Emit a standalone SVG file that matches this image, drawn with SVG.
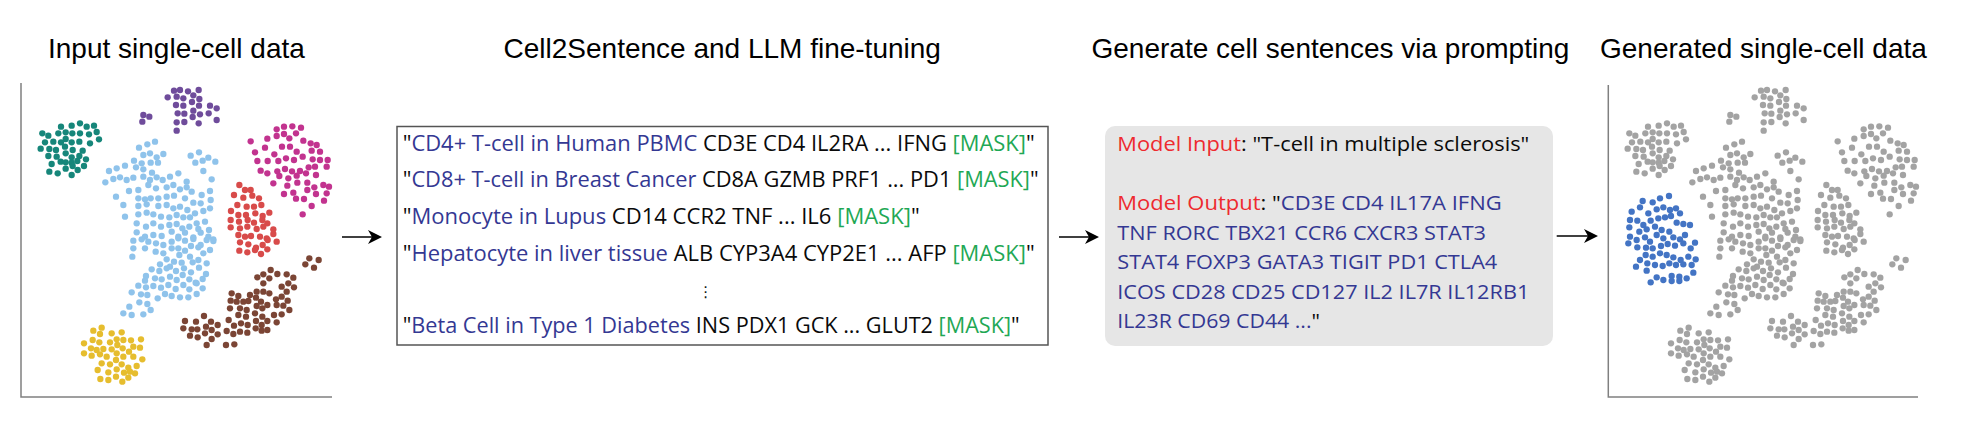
<svg xmlns="http://www.w3.org/2000/svg" xmlns:xlink="http://www.w3.org/1999/xlink" width="1981" height="423" viewBox="0 0 1981 423">
<style>
.title{font-family:"Liberation Sans",Arial,sans-serif;font-size:28px;fill:#000}
.t1{font-family:"Open Sans","Noto Sans",sans-serif;font-size:22px;fill:#0a0a0a}
.t3{font-family:"Open Sans","Noto Sans",sans-serif;font-size:20.5px;fill:#0a0a0a}
.b{fill:#343893}
.g{fill:#1fa855}
.r{fill:#ee2a2f}
.axis{stroke:#808080;stroke-width:1.5;fill:none}
.arrow{stroke:#000;stroke-width:1.6;fill:none;marker-end:url(#ah)}
.gray{fill:#a3a3a3}
</style>
<defs>
<marker id="ah" viewBox="-10 -8 16 16" refX="0" refY="0" markerWidth="16" markerHeight="16" markerUnits="userSpaceOnUse" orient="auto">
<path d="M5,0 L-9,-7 L-5,0 L-9,7 Z" fill="#000"/>
</marker>
<g id="cl-teal" transform="translate(30,80) scale(0.33333)">
<circle cx="93" cy="140" r="9.5"/><circle cx="125" cy="137" r="9.5"/><circle cx="150" cy="130" r="9.5"/><circle cx="170" cy="140" r="9.5"/><circle cx="192" cy="137" r="9.5"/>
<circle cx="37" cy="160" r="9.5"/><circle cx="55" cy="167" r="9.5"/><circle cx="85" cy="160" r="9.5"/><circle cx="107" cy="157" r="9.5"/><circle cx="127" cy="160" r="9.5"/><circle cx="150" cy="160" r="9.5"/><circle cx="177" cy="163" r="9.5"/><circle cx="200" cy="156" r="9.5"/>
<circle cx="45" cy="187" r="9.5"/><circle cx="70" cy="185" r="9.5"/><circle cx="93" cy="187" r="9.5"/><circle cx="107" cy="177" r="9.5"/><circle cx="125" cy="187" r="9.5"/><circle cx="148" cy="185" r="9.5"/><circle cx="180" cy="190" r="9.5"/><circle cx="207" cy="178" r="9.5"/>
<circle cx="32" cy="206" r="9.5"/><circle cx="58" cy="207" r="9.5"/><circle cx="78" cy="210" r="9.5"/><circle cx="105" cy="200" r="9.5"/><circle cx="128" cy="210" r="9.5"/><circle cx="158" cy="212" r="9.5"/>
<circle cx="55" cy="228" r="9.5"/><circle cx="80" cy="230" r="9.5"/><circle cx="107" cy="220" r="9.5"/><circle cx="125" cy="232" r="9.5"/><circle cx="148" cy="228" r="9.5"/>
<circle cx="65" cy="252" r="9.5"/><circle cx="92" cy="245" r="9.5"/><circle cx="107" cy="247" r="9.5"/><circle cx="125" cy="248" r="9.5"/><circle cx="142" cy="243" r="9.5"/><circle cx="168" cy="238" r="9.5"/>
<circle cx="58" cy="275" r="9.5"/><circle cx="83" cy="280" r="9.5"/><circle cx="107" cy="266" r="9.5"/><circle cx="128" cy="258" r="9.5"/><circle cx="143" cy="270" r="9.5"/><circle cx="162" cy="258" r="9.5"/>
<circle cx="125" cy="285" r="9.5"/>
</g>
<g id="cl-purple" transform="translate(30,80) scale(0.33333)">
<circle cx="432" cy="32" r="9.5"/><circle cx="450" cy="30" r="9.5"/><circle cx="474" cy="34" r="9.5"/><circle cx="506" cy="30" r="9.5"/>
<circle cx="413" cy="52" r="9.5"/><circle cx="440" cy="50" r="9.5"/><circle cx="460" cy="55" r="9.5"/><circle cx="490" cy="46" r="9.5"/><circle cx="508" cy="57" r="9.5"/>
<circle cx="438" cy="75" r="9.5"/><circle cx="460" cy="77" r="9.5"/><circle cx="486" cy="66" r="9.5"/><circle cx="507" cy="77" r="9.5"/><circle cx="540" cy="77" r="9.5"/><circle cx="560" cy="85" r="9.5"/>
<circle cx="443" cy="100" r="9.5"/><circle cx="463" cy="101" r="9.5"/><circle cx="490" cy="92" r="9.5"/><circle cx="510" cy="103" r="9.5"/><circle cx="536" cy="100" r="9.5"/>
<circle cx="340" cy="105" r="9.5"/><circle cx="358" cy="110" r="9.5"/><circle cx="337" cy="125" r="9.5"/>
<circle cx="440" cy="127" r="9.5"/><circle cx="463" cy="126" r="9.5"/><circle cx="488" cy="111" r="9.5"/><circle cx="506" cy="130" r="9.5"/><circle cx="560" cy="120" r="9.5"/>
<circle cx="440" cy="152" r="9.5"/>
</g>
<g id="cl-magenta" transform="translate(30,80) scale(0.33333)">
<circle cx="740" cy="148" r="9.5"/><circle cx="762" cy="140" r="9.5"/><circle cx="787" cy="139" r="9.5"/><circle cx="813" cy="143" r="9.5"/>
<circle cx="662" cy="184" r="9.5"/><circle cx="712" cy="176" r="9.5"/><circle cx="740" cy="168" r="9.5"/><circle cx="762" cy="162" r="9.5"/><circle cx="798" cy="160" r="9.5"/><circle cx="778" cy="175" r="9.5"/><circle cx="820" cy="182" r="9.5"/>
<circle cx="675" cy="217" r="9.5"/><circle cx="705" cy="203" r="9.5"/><circle cx="733" cy="223" r="9.5"/><circle cx="756" cy="200" r="9.5"/><circle cx="780" cy="200" r="9.5"/><circle cx="800" cy="215" r="9.5"/><circle cx="842" cy="190" r="9.5"/><circle cx="860" cy="195" r="9.5"/>
<circle cx="682" cy="243" r="9.5"/><circle cx="713" cy="243" r="9.5"/><circle cx="745" cy="243" r="9.5"/><circle cx="768" cy="235" r="9.5"/><circle cx="792" cy="240" r="9.5"/><circle cx="818" cy="230" r="9.5"/><circle cx="845" cy="212" r="9.5"/><circle cx="870" cy="215" r="9.5"/><circle cx="848" cy="238" r="9.5"/><circle cx="870" cy="240" r="9.5"/><circle cx="893" cy="240" r="9.5"/>
<circle cx="692" cy="272" r="9.5"/><circle cx="712" cy="280" r="9.5"/><circle cx="742" cy="274" r="9.5"/><circle cx="765" cy="267" r="9.5"/><circle cx="786" cy="274" r="9.5"/><circle cx="810" cy="273" r="9.5"/><circle cx="836" cy="262" r="9.5"/><circle cx="855" cy="260" r="9.5"/><circle cx="890" cy="260" r="9.5"/>
<circle cx="730" cy="310" r="9.5"/><circle cx="748" cy="288" r="9.5"/><circle cx="775" cy="295" r="9.5"/><circle cx="800" cy="287" r="9.5"/><circle cx="828" cy="280" r="9.5"/><circle cx="858" cy="285" r="9.5"/><circle cx="772" cy="317" r="9.5"/><circle cx="802" cy="308" r="9.5"/><circle cx="832" cy="308" r="9.5"/><circle cx="853" cy="322" r="9.5"/><circle cx="880" cy="315" r="9.5"/><circle cx="897" cy="320" r="9.5"/>
<circle cx="762" cy="342" r="9.5"/><circle cx="790" cy="338" r="9.5"/><circle cx="798" cy="356" r="9.5"/><circle cx="822" cy="357" r="9.5"/><circle cx="832" cy="330" r="9.5"/><circle cx="858" cy="342" r="9.5"/><circle cx="890" cy="340" r="9.5"/><circle cx="845" cy="378" r="9.5"/><circle cx="882" cy="362" r="9.5"/>
<circle cx="818" cy="403" r="9.5"/>
</g>
<g id="cl-red">
<g transform="translate(30,80) scale(0.33333)">
<circle cx="628" cy="315" r="9.5"/><circle cx="645" cy="330" r="9.5"/><circle cx="662" cy="330" r="9.5"/>
<circle cx="612" cy="345" r="9.5"/><circle cx="640" cy="353" r="9.5"/><circle cx="667" cy="347" r="9.5"/><circle cx="687" cy="355" r="9.5"/>
<circle cx="622" cy="375" r="9.5"/><circle cx="650" cy="380" r="9.5"/><circle cx="672" cy="380" r="9.5"/><circle cx="694" cy="375" r="9.5"/>
<circle cx="603" cy="393" r="9.5"/><circle cx="625" cy="405" r="9.5"/><circle cx="648" cy="405" r="9.5"/><circle cx="676" cy="400" r="9.5"/><circle cx="698" cy="408" r="9.5"/><circle cx="718" cy="398" r="9.5"/>
<circle cx="602" cy="420" r="9.5"/><circle cx="627" cy="425" r="9.5"/><circle cx="653" cy="420" r="9.5"/><circle cx="672" cy="428" r="9.5"/><circle cx="697" cy="420" r="9.5"/><circle cx="712" cy="430" r="9.5"/>
<circle cx="602" cy="442" r="9.5"/><circle cx="630" cy="445" r="9.5"/><circle cx="652" cy="440" r="9.5"/><circle cx="680" cy="447" r="9.5"/><circle cx="700" cy="440" r="9.5"/><circle cx="730" cy="448" r="9.5"/>
<circle cx="625" cy="465" r="9.5"/><circle cx="645" cy="470" r="9.5"/><circle cx="663" cy="468" r="9.5"/><circle cx="690" cy="470" r="9.5"/><circle cx="710" cy="475" r="9.5"/><circle cx="730" cy="462" r="9.5"/>
</g>
<g transform="translate(30,235) scale(0.33333)">
<circle cx="630" cy="22" r="9.5"/><circle cx="655" cy="28" r="9.5"/><circle cx="678" cy="38" r="9.5"/><circle cx="698" cy="30" r="9.5"/><circle cx="713" cy="15" r="9.5"/><circle cx="740" cy="20" r="9.5"/><circle cx="628" cy="47" r="9.5"/><circle cx="652" cy="52" r="9.5"/><circle cx="675" cy="45" r="9.5"/><circle cx="693" cy="57" r="9.5"/><circle cx="712" cy="43" r="9.5"/>
</g>
</g>
<g id="cl-lblue">
<g transform="translate(30,80) scale(0.33333)">
<circle cx="375" cy="185" r="9.5"/><circle cx="352" cy="193" r="9.5"/><circle cx="327" cy="203" r="9.5"/>
<circle cx="340" cy="225" r="9.5"/><circle cx="360" cy="220" r="9.5"/><circle cx="380" cy="232" r="9.5"/><circle cx="400" cy="222" r="9.5"/><circle cx="312" cy="242" r="9.5"/><circle cx="335" cy="250" r="9.5"/><circle cx="362" cy="248" r="9.5"/><circle cx="384" cy="248" r="9.5"/>
<circle cx="482" cy="227" r="9.5"/><circle cx="507" cy="217" r="9.5"/><circle cx="535" cy="233" r="9.5"/><circle cx="518" cy="242" r="9.5"/><circle cx="496" cy="248" r="9.5"/><circle cx="556" cy="245" r="9.5"/>
<circle cx="237" cy="273" r="9.5"/><circle cx="260" cy="265" r="9.5"/><circle cx="285" cy="257" r="9.5"/><circle cx="318" cy="262" r="9.5"/><circle cx="340" cy="268" r="9.5"/><circle cx="366" cy="278" r="9.5"/><circle cx="250" cy="297" r="9.5"/><circle cx="270" cy="292" r="9.5"/><circle cx="290" cy="300" r="9.5"/><circle cx="310" cy="293" r="9.5"/><circle cx="340" cy="290" r="9.5"/><circle cx="360" cy="300" r="9.5"/><circle cx="380" cy="292" r="9.5"/><circle cx="398" cy="300" r="9.5"/><circle cx="420" cy="290" r="9.5"/><circle cx="445" cy="280" r="9.5"/><circle cx="470" cy="305" r="9.5"/><circle cx="520" cy="273" r="9.5"/><circle cx="545" cy="298" r="9.5"/><circle cx="226" cy="307" r="9.5"/>
<circle cx="297" cy="333" r="9.5"/><circle cx="325" cy="330" r="9.5"/><circle cx="355" cy="315" r="9.5"/><circle cx="378" cy="325" r="9.5"/><circle cx="410" cy="322" r="9.5"/><circle cx="430" cy="315" r="9.5"/><circle cx="450" cy="328" r="9.5"/><circle cx="470" cy="322" r="9.5"/><circle cx="485" cy="335" r="9.5"/><circle cx="515" cy="345" r="9.5"/><circle cx="540" cy="333" r="9.5"/><circle cx="258" cy="350" r="9.5"/><circle cx="325" cy="355" r="9.5"/><circle cx="345" cy="358" r="9.5"/><circle cx="362" cy="355" r="9.5"/><circle cx="385" cy="355" r="9.5"/><circle cx="410" cy="350" r="9.5"/><circle cx="432" cy="347" r="9.5"/><circle cx="465" cy="355" r="9.5"/><circle cx="490" cy="368" r="9.5"/><circle cx="512" cy="370" r="9.5"/><circle cx="542" cy="360" r="9.5"/>
<circle cx="280" cy="375" r="9.5"/><circle cx="325" cy="378" r="9.5"/><circle cx="350" cy="373" r="9.5"/><circle cx="385" cy="378" r="9.5"/><circle cx="410" cy="375" r="9.5"/><circle cx="430" cy="385" r="9.5"/><circle cx="450" cy="380" r="9.5"/><circle cx="472" cy="390" r="9.5"/><circle cx="495" cy="400" r="9.5"/><circle cx="520" cy="393" r="9.5"/><circle cx="540" cy="385" r="9.5"/><circle cx="285" cy="410" r="9.5"/><circle cx="325" cy="403" r="9.5"/><circle cx="350" cy="398" r="9.5"/><circle cx="370" cy="403" r="9.5"/><circle cx="393" cy="410" r="9.5"/><circle cx="418" cy="412" r="9.5"/><circle cx="440" cy="405" r="9.5"/><circle cx="460" cy="412" r="9.5"/><circle cx="480" cy="412" r="9.5"/><circle cx="500" cy="430" r="9.5"/><circle cx="525" cy="425" r="9.5"/>
<circle cx="320" cy="430" r="9.5"/><circle cx="348" cy="440" r="9.5"/><circle cx="370" cy="430" r="9.5"/><circle cx="393" cy="440" r="9.5"/><circle cx="418" cy="435" r="9.5"/><circle cx="440" cy="432" r="9.5"/><circle cx="457" cy="445" r="9.5"/><circle cx="478" cy="440" r="9.5"/><circle cx="505" cy="447" r="9.5"/><circle cx="537" cy="450" r="9.5"/>
<circle cx="320" cy="457" r="9.5"/><circle cx="345" cy="470" r="9.5"/><circle cx="370" cy="465" r="9.5"/><circle cx="395" cy="468" r="9.5"/><circle cx="425" cy="455" r="9.5"/><circle cx="445" cy="470" r="9.5"/><circle cx="465" cy="458" r="9.5"/><circle cx="490" cy="472" r="9.5"/><circle cx="512" cy="458" r="9.5"/><circle cx="535" cy="470" r="9.5"/><circle cx="550" cy="478" r="9.5"/>
</g>
<g transform="translate(30,235) scale(0.33333)">
<circle cx="310" cy="17" r="9.5"/><circle cx="335" cy="13" r="9.5"/><circle cx="355" cy="20" r="9.5"/><circle cx="378" cy="25" r="9.5"/><circle cx="400" cy="30" r="9.5"/><circle cx="425" cy="20" r="9.5"/><circle cx="445" cy="10" r="9.5"/><circle cx="465" cy="17" r="9.5"/><circle cx="490" cy="12" r="9.5"/><circle cx="512" cy="30" r="9.5"/><circle cx="530" cy="15" r="9.5"/><circle cx="550" cy="18" r="9.5"/>
<circle cx="310" cy="40" r="9.5"/><circle cx="345" cy="40" r="9.5"/><circle cx="377" cy="50" r="9.5"/><circle cx="400" cy="55" r="9.5"/><circle cx="425" cy="40" r="9.5"/><circle cx="445" cy="40" r="9.5"/><circle cx="465" cy="47" r="9.5"/><circle cx="483" cy="33" r="9.5"/><circle cx="505" cy="37" r="9.5"/><circle cx="520" cy="55" r="9.5"/><circle cx="540" cy="45" r="9.5"/>
<circle cx="307" cy="65" r="9.5"/><circle cx="410" cy="73" r="9.5"/><circle cx="432" cy="80" r="9.5"/><circle cx="448" cy="60" r="9.5"/><circle cx="480" cy="65" r="9.5"/><circle cx="505" cy="75" r="9.5"/><circle cx="530" cy="85" r="9.5"/><circle cx="390" cy="88" r="9.5"/><circle cx="420" cy="95" r="9.5"/><circle cx="455" cy="83" r="9.5"/><circle cx="488" cy="82" r="9.5"/><circle cx="365" cy="103" r="9.5"/><circle cx="388" cy="108" r="9.5"/><circle cx="410" cy="100" r="9.5"/><circle cx="438" cy="108" r="9.5"/><circle cx="462" cy="100" r="9.5"/><circle cx="483" cy="112" r="9.5"/><circle cx="507" cy="98" r="9.5"/><circle cx="528" cy="117" r="9.5"/>
<circle cx="348" cy="123" r="9.5"/><circle cx="375" cy="130" r="9.5"/><circle cx="395" cy="133" r="9.5"/><circle cx="420" cy="125" r="9.5"/><circle cx="440" cy="135" r="9.5"/><circle cx="458" cy="120" r="9.5"/><circle cx="478" cy="133" r="9.5"/><circle cx="497" cy="143" r="9.5"/><circle cx="518" cy="132" r="9.5"/><circle cx="345" cy="137" r="9.5"/>
<circle cx="325" cy="152" r="9.5"/><circle cx="348" cy="157" r="9.5"/><circle cx="370" cy="153" r="9.5"/><circle cx="393" cy="158" r="9.5"/><circle cx="415" cy="150" r="9.5"/><circle cx="437" cy="162" r="9.5"/><circle cx="460" cy="150" r="9.5"/><circle cx="478" cy="163" r="9.5"/><circle cx="500" cy="145" r="9.5"/><circle cx="518" cy="160" r="9.5"/>
<circle cx="305" cy="172" r="9.5"/><circle cx="333" cy="178" r="9.5"/><circle cx="352" cy="180" r="9.5"/><circle cx="383" cy="190" r="9.5"/><circle cx="405" cy="177" r="9.5"/><circle cx="425" cy="183" r="9.5"/><circle cx="450" cy="187" r="9.5"/><circle cx="475" cy="187" r="9.5"/><circle cx="500" cy="177" r="9.5"/>
<circle cx="328" cy="202" r="9.5"/><circle cx="352" cy="207" r="9.5"/><circle cx="298" cy="215" r="9.5"/><circle cx="362" cy="225" r="9.5"/><circle cx="280" cy="235" r="9.5"/><circle cx="305" cy="240" r="9.5"/><circle cx="340" cy="238" r="9.5"/>
</g>
</g>
<g id="cl-brown" transform="translate(30,235) scale(0.33333)">
<circle cx="838" cy="70" r="9.5"/><circle cx="866" cy="75" r="9.5"/><circle cx="826" cy="88" r="9.5"/><circle cx="852" cy="98" r="9.5"/>
<circle cx="722" cy="105" r="9.5"/><circle cx="700" cy="118" r="9.5"/><circle cx="742" cy="117" r="9.5"/><circle cx="770" cy="118" r="9.5"/><circle cx="790" cy="128" r="9.5"/><circle cx="682" cy="127" r="9.5"/><circle cx="718" cy="130" r="9.5"/><circle cx="700" cy="145" r="9.5"/><circle cx="755" cy="155" r="9.5"/><circle cx="775" cy="145" r="9.5"/><circle cx="792" cy="157" r="9.5"/>
<circle cx="605" cy="175" r="9.5"/><circle cx="625" cy="183" r="9.5"/><circle cx="660" cy="180" r="9.5"/><circle cx="680" cy="170" r="9.5"/><circle cx="700" cy="170" r="9.5"/><circle cx="718" cy="175" r="9.5"/><circle cx="770" cy="170" r="9.5"/><circle cx="678" cy="188" r="9.5"/><circle cx="655" cy="198" r="9.5"/><circle cx="693" cy="200" r="9.5"/><circle cx="738" cy="193" r="9.5"/><circle cx="755" cy="185" r="9.5"/><circle cx="773" cy="197" r="9.5"/>
<circle cx="602" cy="197" r="9.5"/><circle cx="620" cy="200" r="9.5"/><circle cx="640" cy="200" r="9.5"/><circle cx="600" cy="220" r="9.5"/><circle cx="630" cy="220" r="9.5"/><circle cx="650" cy="225" r="9.5"/><circle cx="680" cy="213" r="9.5"/><circle cx="697" cy="220" r="9.5"/><circle cx="712" cy="210" r="9.5"/><circle cx="740" cy="210" r="9.5"/><circle cx="760" cy="212" r="9.5"/><circle cx="778" cy="225" r="9.5"/>
<circle cx="625" cy="240" r="9.5"/><circle cx="648" cy="245" r="9.5"/><circle cx="675" cy="235" r="9.5"/><circle cx="697" cy="245" r="9.5"/><circle cx="732" cy="240" r="9.5"/><circle cx="755" cy="238" r="9.5"/><circle cx="522" cy="243" r="9.5"/>
<circle cx="465" cy="258" r="9.5"/><circle cx="498" cy="260" r="9.5"/><circle cx="543" cy="260" r="9.5"/><circle cx="596" cy="255" r="9.5"/><circle cx="612" cy="272" r="9.5"/><circle cx="633" cy="265" r="9.5"/><circle cx="653" cy="270" r="9.5"/><circle cx="678" cy="258" r="9.5"/><circle cx="695" cy="270" r="9.5"/><circle cx="712" cy="258" r="9.5"/><circle cx="740" cy="262" r="9.5"/>
<circle cx="460" cy="280" r="9.5"/><circle cx="485" cy="283" r="9.5"/><circle cx="502" cy="283" r="9.5"/><circle cx="528" cy="275" r="9.5"/><circle cx="545" cy="285" r="9.5"/><circle cx="563" cy="270" r="9.5"/><circle cx="590" cy="288" r="9.5"/><circle cx="610" cy="297" r="9.5"/><circle cx="630" cy="290" r="9.5"/><circle cx="652" cy="293" r="9.5"/><circle cx="677" cy="280" r="9.5"/><circle cx="695" cy="287" r="9.5"/><circle cx="712" cy="285" r="9.5"/>
<circle cx="480" cy="302" r="9.5"/><circle cx="503" cy="307" r="9.5"/><circle cx="525" cy="295" r="9.5"/><circle cx="545" cy="312" r="9.5"/><circle cx="563" cy="298" r="9.5"/>
<circle cx="530" cy="330" r="9.5"/><circle cx="588" cy="330" r="9.5"/><circle cx="613" cy="328" r="9.5"/>
</g>
<g id="cl-yellow" transform="translate(30,235) scale(0.33333)">
<circle cx="215" cy="278" r="9.5"/><circle cx="190" cy="287" r="9.5"/><circle cx="210" cy="297" r="9.5"/><circle cx="245" cy="295" r="9.5"/><circle cx="275" cy="292" r="9.5"/>
<circle cx="162" cy="325" r="9.5"/><circle cx="188" cy="315" r="9.5"/><circle cx="208" cy="322" r="9.5"/><circle cx="240" cy="322" r="9.5"/><circle cx="260" cy="313" r="9.5"/><circle cx="280" cy="315" r="9.5"/><circle cx="303" cy="316" r="9.5"/><circle cx="333" cy="313" r="9.5"/>
<circle cx="162" cy="355" r="9.5"/><circle cx="183" cy="340" r="9.5"/><circle cx="200" cy="345" r="9.5"/><circle cx="220" cy="342" r="9.5"/><circle cx="245" cy="343" r="9.5"/><circle cx="262" cy="330" r="9.5"/><circle cx="278" cy="340" r="9.5"/><circle cx="297" cy="350" r="9.5"/><circle cx="310" cy="335" r="9.5"/><circle cx="330" cy="338" r="9.5"/>
<circle cx="185" cy="362" r="9.5"/><circle cx="210" cy="358" r="9.5"/><circle cx="230" cy="365" r="9.5"/><circle cx="260" cy="355" r="9.5"/><circle cx="280" cy="365" r="9.5"/><circle cx="310" cy="365" r="9.5"/><circle cx="337" cy="373" r="9.5"/>
<circle cx="215" cy="385" r="9.5"/><circle cx="240" cy="388" r="9.5"/><circle cx="258" cy="375" r="9.5"/><circle cx="275" cy="388" r="9.5"/><circle cx="295" cy="398" r="9.5"/><circle cx="320" cy="393" r="9.5"/>
<circle cx="203" cy="405" r="9.5"/><circle cx="235" cy="412" r="9.5"/><circle cx="260" cy="403" r="9.5"/><circle cx="282" cy="413" r="9.5"/><circle cx="300" cy="410" r="9.5"/><circle cx="315" cy="415" r="9.5"/>
<circle cx="211" cy="432" r="9.5"/><circle cx="235" cy="435" r="9.5"/><circle cx="258" cy="425" r="9.5"/><circle cx="277" cy="440" r="9.5"/><circle cx="295" cy="428" r="9.5"/>
</g>
</defs>

<g id="titles">
<text class="title" x="48" y="58">Input single-cell data</text>
<text class="title" x="503.5" y="58">Cell2Sentence and LLM fine-tuning</text>
<text class="title" x="1091.5" y="58">Generate cell sentences via prompting</text>
<text class="title" x="1600" y="58">Generated single-cell data</text>
</g>

<g id="input-plot">
<path class="axis" d="M21,83 V397 H332"/>
<use href="#cl-lblue" fill="#8fc3eb"/>
<use href="#cl-teal" fill="#16867a"/>
<use href="#cl-purple" fill="#6f4c9b"/>
<use href="#cl-magenta" fill="#c2338f"/>
<use href="#cl-red" fill="#d84b4a"/>
<use href="#cl-brown" fill="#7b4535"/>
<use href="#cl-yellow" fill="#e6bd2e"/>
</g>

<g id="finetune-box">
<rect x="397" y="126.5" width="651" height="218.5" fill="#fff" stroke="#555" stroke-width="1.5"/>
<text class="t1" x="402.7" y="150.7" textLength="632" lengthAdjust="spacingAndGlyphs">"<tspan class="b">CD4+ T-cell in Human PBMC</tspan> CD3E CD4 IL2RA ... IFNG <tspan class="g">[MASK]</tspan>"</text>
<text class="t1" x="402.7" y="187.4" textLength="636" lengthAdjust="spacingAndGlyphs">"<tspan class="b">CD8+ T-cell in Breast Cancer</tspan> CD8A GZMB PRF1 ... PD1  <tspan class="g">[MASK]</tspan>"</text>
<text class="t1" x="402.7" y="224" textLength="517" lengthAdjust="spacingAndGlyphs">"<tspan class="b">Monocyte in Lupus</tspan> CD14 CCR2 TNF ...  IL6 <tspan class="g">[MASK]</tspan>"</text>
<text class="t1" x="402.7" y="260.7" textLength="632" lengthAdjust="spacingAndGlyphs">"<tspan class="b">Hepatocyte in liver tissue</tspan> ALB CYP3A4 CYP2E1 ... AFP <tspan class="g">[MASK]</tspan>"</text>
<text x="705.7" y="297" text-anchor="middle" font-family="DejaVu Sans, sans-serif" font-size="15" fill="#111">⋮</text>
<text class="t1" x="402.7" y="333.4" textLength="617" lengthAdjust="spacingAndGlyphs">"<tspan class="b">Beta Cell in Type 1 Diabetes</tspan> INS PDX1 GCK ... GLUT2 <tspan class="g">[MASK]</tspan>"</text>
</g>

<g id="prompt-box">
<rect x="1105" y="126" width="448" height="220" rx="10" fill="#e6e6e6"/>
<text class="t3" x="1117.3" y="150.7" textLength="412" lengthAdjust="spacingAndGlyphs"><tspan class="r">Model Input</tspan>: "T-cell in multiple sclerosis"</text>
<text class="t3" x="1117.3" y="210" textLength="384.4" lengthAdjust="spacingAndGlyphs"><tspan class="r">Model Output</tspan>: "<tspan class="b">CD3E CD4 IL17A IFNG</tspan></text>
<text class="t3 b" x="1117.3" y="239.6" textLength="368.7" lengthAdjust="spacingAndGlyphs">TNF RORC TBX21 CCR6 CXCR3 STAT3</text>
<text class="t3 b" x="1117.3" y="269.3" textLength="380" lengthAdjust="spacingAndGlyphs">STAT4 FOXP3 GATA3 TIGIT PD1 CTLA4</text>
<text class="t3 b" x="1117.3" y="298.6" textLength="412" lengthAdjust="spacingAndGlyphs">ICOS CD28 CD25 CD127 IL2 IL7R IL12RB1</text>
<text class="t3" x="1117.3" y="328.3" textLength="202.7" lengthAdjust="spacingAndGlyphs"><tspan class="b">IL23R CD69 CD44 ...</tspan>"</text>
</g>

<g id="generated-plot">
<path class="axis" d="M1608.3,85 V397 H1918"/>
<g class="gray">
<use href="#cl-lblue" x="1587"/>
<use href="#cl-teal" x="1587"/>
<use href="#cl-purple" x="1587"/>
<use href="#cl-magenta" x="1587"/>
<use href="#cl-red" x="1587"/>
<use href="#cl-brown" x="1587"/>
<use href="#cl-yellow" x="1587"/>
</g>
<g id="cl-blue" fill="#4374c4" transform="translate(1560,0) scale(0.33333)">
<circle cx="327" cy="588" r="9.5"/><circle cx="300" cy="595" r="9.5"/><circle cx="278" cy="607" r="9.5"/><circle cx="248" cy="603" r="9.5"/>
<circle cx="215" cy="635" r="9.5"/><circle cx="240" cy="622" r="9.5"/><circle cx="265" cy="640" r="9.5"/><circle cx="290" cy="628" r="9.5"/><circle cx="310" cy="622" r="9.5"/><circle cx="330" cy="630" r="9.5"/><circle cx="348" cy="625" r="9.5"/>
<circle cx="210" cy="660" r="9.5"/><circle cx="232" cy="662" r="9.5"/><circle cx="250" cy="675" r="9.5"/><circle cx="272" cy="662" r="9.5"/><circle cx="295" cy="655" r="9.5"/><circle cx="315" cy="652" r="9.5"/><circle cx="333" cy="648" r="9.5"/><circle cx="360" cy="640" r="9.5"/>
<circle cx="208" cy="682" r="9.5"/><circle cx="238" cy="695" r="9.5"/><circle cx="260" cy="688" r="9.5"/><circle cx="285" cy="680" r="9.5"/><circle cx="305" cy="690" r="9.5"/><circle cx="328" cy="695" r="9.5"/><circle cx="350" cy="668" r="9.5"/><circle cx="370" cy="672" r="9.5"/><circle cx="390" cy="675" r="9.5"/>
<circle cx="210" cy="710" r="9.5"/><circle cx="230" cy="720" r="9.5"/><circle cx="255" cy="712" r="9.5"/><circle cx="270" cy="725" r="9.5"/><circle cx="290" cy="705" r="9.5"/><circle cx="310" cy="715" r="9.5"/><circle cx="340" cy="712" r="9.5"/><circle cx="360" cy="718" r="9.5"/><circle cx="375" cy="705" r="9.5"/><circle cx="392" cy="745" r="9.5"/>
<circle cx="205" cy="730" r="9.5"/><circle cx="232" cy="742" r="9.5"/><circle cx="258" cy="743" r="9.5"/><circle cx="278" cy="745" r="9.5"/><circle cx="303" cy="738" r="9.5"/><circle cx="323" cy="732" r="9.5"/><circle cx="345" cy="737" r="9.5"/><circle cx="370" cy="730" r="9.5"/><circle cx="405" cy="728" r="9.5"/>
<circle cx="240" cy="780" r="9.5"/><circle cx="257" cy="765" r="9.5"/><circle cx="278" cy="770" r="9.5"/><circle cx="300" cy="760" r="9.5"/><circle cx="320" cy="765" r="9.5"/><circle cx="340" cy="772" r="9.5"/><circle cx="362" cy="780" r="9.5"/><circle cx="385" cy="770" r="9.5"/><circle cx="407" cy="778" r="9.5"/>
<circle cx="228" cy="800" r="9.5"/><circle cx="262" cy="790" r="9.5"/><circle cx="285" cy="795" r="9.5"/><circle cx="308" cy="798" r="9.5"/><circle cx="328" cy="790" r="9.5"/><circle cx="348" cy="795" r="9.5"/><circle cx="370" cy="793" r="9.5"/><circle cx="395" cy="795" r="9.5"/>
<circle cx="260" cy="812" r="9.5"/><circle cx="290" cy="832" r="9.5"/><circle cx="310" cy="840" r="9.5"/><circle cx="335" cy="828" r="9.5"/><circle cx="358" cy="830" r="9.5"/><circle cx="380" cy="835" r="9.5"/><circle cx="400" cy="818" r="9.5"/><circle cx="272" cy="847" r="9.5"/><circle cx="335" cy="843" r="9.5"/><circle cx="358" cy="843" r="9.5"/>
</g>
</g>

<g id="connectors">
<line class="arrow" x1="342" y1="237" x2="377" y2="237"/>
<line class="arrow" x1="1059" y1="237" x2="1094" y2="237"/>
<line class="arrow" x1="1556.7" y1="236" x2="1593" y2="236"/>
</g>
</svg>
